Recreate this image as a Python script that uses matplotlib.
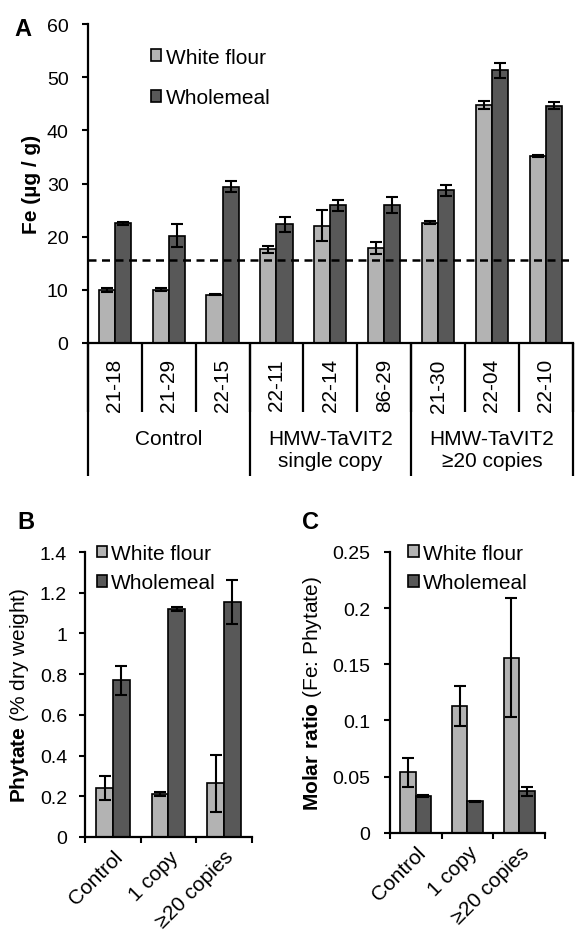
import numpy as np
import matplotlib
matplotlib.use("Agg")
import matplotlib.pyplot as plt
import matplotlib.transforms as mtransforms

plt.rcParams['font.family'] = ['Liberation Sans', 'DejaVu Sans']
plt.rcParams['mathtext.fontset'] = 'custom'
plt.rcParams['mathtext.rm'] = 'Liberation Sans'
plt.rcParams['mathtext.bf'] = 'Liberation Sans:bold'

# panel A : Fe content per line
lines_a = ["21-18", "21-29", "22-15", "22-11", "22-14", "86-29", "21-30", "22-04", "22-10"]
groups_a = ["Control", "HMW-TaVIT2\nsingle copy", "HMW-TaVIT2\n\u226520 copies"]
fe_white = [10.0, 10.0, 9.1, 17.6, 22.1, 17.9, 22.6, 44.8, 35.2]
fe_white_err = [0.4, 0.3, 0.1, 0.7, 3.0, 1.1, 0.3, 0.8, 0.15]
fe_whole = [22.5, 20.2, 29.4, 22.3, 25.9, 25.9, 28.7, 51.3, 44.7]
fe_whole_err = [0.3, 2.1, 1.0, 1.4, 1.0, 1.5, 1.1, 1.5, 0.7]
fe_threshold = 15.7

# panels B and C
cats_bc = ["Control", "1 copy", "\u226520 copies"]
phy_white = [0.24, 0.21, 0.265]
phy_white_err = [0.06, 0.01, 0.14]
phy_whole = [0.77, 1.12, 1.155]
phy_whole_err = [0.07, 0.01, 0.11]
ratio_white = [0.054, 0.113, 0.156]
ratio_white_err = [0.013, 0.018, 0.053]
ratio_whole = [0.033, 0.028, 0.037]
ratio_whole_err = [0.001, 0.0005, 0.004]

LIGHT = "#b3b3b3"
DARK = "#585858"
W = 0.3


def DoBars(ax, white, werr, whole, herr):
    x = np.arange(len(white))
    ekw = dict(ecolor='black', elinewidth=1.5, capsize=4, capthick=1.5)
    ax.bar(x - W/2, white, W, yerr=werr, color=LIGHT, edgecolor='black',
           linewidth=1.2, error_kw=ekw, label="White flour")
    ax.bar(x + W/2, whole, W, yerr=herr, color=DARK, edgecolor='black',
           linewidth=1.2, error_kw=ekw, label="Wholemeal")


def ConfigAxes(ax, pad):
    for s in ['top', 'right']:
        ax.spines[s].set_visible(False)
    for s in ['left', 'bottom']:
        ax.spines[s].set_linewidth(1.6)
    ax.tick_params(axis='y', direction='out', length=4, width=1.5,
                   labelsize=14, pad=pad)


def DoLegend(ax, x, y, spacing):
    ax.legend(loc='upper left', bbox_to_anchor=(x, y), frameon=False,
              fontsize=15, handlelength=0.5, handleheight=0.5,
              handletextpad=0.2, labelspacing=spacing, borderaxespad=0,
              borderpad=0)


fig = plt.figure(figsize=(5.75, 9.37), dpi=100)

# ---------- A
axA = fig.add_axes([0.153, 0.633, 0.843, 0.340])
DoBars(axA, fe_white, fe_white_err, fe_whole, fe_whole_err)
ConfigAxes(axA, 10)
axA.set_xlim(-0.5, len(lines_a) - 0.5)
axA.set_ylim(0, 60)
axA.set_yticks(range(0, 61, 10))
axA.axhline(fe_threshold, color='black', lw=1.8, ls=(0, (3.2, 2.2)), zorder=5)
axA.set_xticks(np.arange(len(lines_a)))
axA.set_xticklabels(lines_a, rotation=90, fontsize=15)
axA.tick_params(axis='x', which='major', length=0, pad=11)
axA.set_xticks(np.arange(-0.5, len(lines_a)), minor=True)
axA.tick_params(axis='x', which='minor', length=50, width=1.6, direction='out')
axA.set_ylabel("Fe (\u00b5g / g)", fontsize=15, fontweight='bold', labelpad=4)
DoLegend(axA, 0.13, 0.927, 1.05)

tr = mtransforms.blended_transform_factory(axA.transData, axA.transAxes)
for b in [-0.5, 2.5, 5.5, 8.5]:
    axA.plot([b, b], [0, -0.417], color='black', lw=1.6, transform=tr,
             clip_on=False, solid_capstyle='butt')
for i, g in enumerate(groups_a):
    axA.text(1 + 3*i, -0.27, g, transform=tr, ha='center', va='top',
             fontsize=15, linespacing=1.2)

fig.text(0.025, 0.968, "A", fontsize=17, fontweight='bold', va='center')

# ---------- B
axB = fig.add_axes([0.148, 0.1057, 0.290, 0.304])
DoBars(axB, phy_white, phy_white_err, phy_whole, phy_whole_err)
ConfigAxes(axB, 9)
axB.set_xlim(-0.5, 2.5)
axB.set_ylim(0, 1.4)
axB.set_yticks(np.arange(0, 1.41, 0.2))
axB.set_yticklabels(["0", "0.2", "0.4", "0.6", "0.8", "1", "1.2", "1.4"])
axB.set_ylabel(r"$\bf{Phytate}$ (% dry weight)", fontsize=15, labelpad=6)
DoLegend(axB, 0.07, 1.029, 0.5)

# ---------- C
axC = fig.add_axes([0.678, 0.110, 0.270, 0.300])
DoBars(axC, ratio_white, ratio_white_err, ratio_whole, ratio_whole_err)
ConfigAxes(axC, 10)
axC.set_xlim(-0.5, 2.5)
axC.set_ylim(0, 0.25)
axC.set_yticks(np.arange(0, 0.251, 0.05))
axC.set_yticklabels(["0", "0.05", "0.1", "0.15", "0.2", "0.25"])
axC.set_ylabel(r"$\bf{Molar\ ratio}$ (Fe: Phytate)", fontsize=15, labelpad=6)
DoLegend(axC, 0.12, 1.029, 0.5)

for ax in [axB, axC]:
    ax.set_xticks(np.arange(3))
    ax.set_xticklabels(cats_bc, rotation=45, ha='right', va='top',
                       rotation_mode='anchor', fontsize=15)
    ax.tick_params(axis='x', which='major', length=0, pad=7)
    ax.set_xticks(np.arange(-0.5, 3), minor=True)
    ax.tick_params(axis='x', which='minor', length=4, width=1.5, direction='out')

fig.text(0.03, 0.442, "B", fontsize=17, fontweight='bold', va='center')
fig.text(0.525, 0.442, "C", fontsize=17, fontweight='bold', va='center')

fig.savefig("out.png", dpi=100)
